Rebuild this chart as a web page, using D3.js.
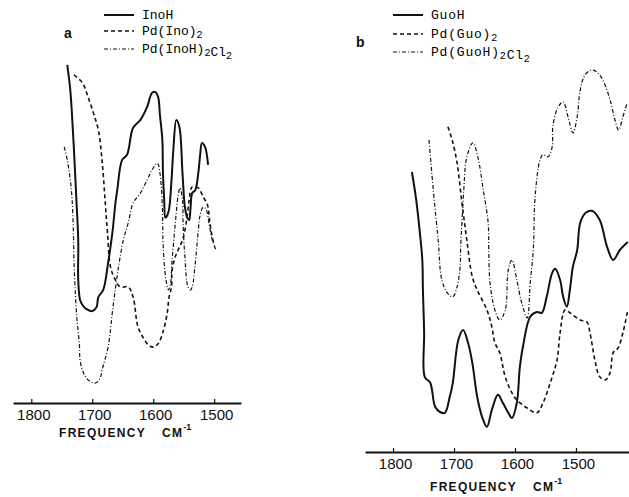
<!DOCTYPE html>
<html>
<head>
<meta charset="utf-8">
<script src="https://cdn.jsdelivr.net/npm/d3@7"></script>
<style>
  body { margin: 0; background: #fff; }
  .tick text { font-family: "Liberation Sans", sans-serif; font-size: 15px; fill: #111; }
  .legend text { font-family: "Liberation Mono", monospace; font-size: 13px; fill: #000; }
</style>
</head>
<body>
<div id="chart"></div>
<script>
// frequency ticks (cm-1), same for both panels
const freqTicks = [1800, 1700, 1600, 1500];

// panel a : [frequency, relative transmittance]
const inoH = [[1741,93.1],[1736,86.1],[1733,78.6],[1730,69.4],[1726,55.6],[1723,44.4],[1723,33.3],[1720,27.8],[1716,26.4],[1710,25.3],[1700,24.7],[1693,25.8],[1690,28.6],[1682,30.6],[1674,38.1],[1667,46.4],[1662,54.7],[1659,58.3],[1651,66.7],[1643,68.1],[1633,75.6],[1621,77.8],[1610,81.4],[1602,85.3],[1597,85.6],[1592,84.2],[1589,79.2],[1585,72.2],[1584,63.1],[1582,55.6],[1580,50.6],[1575,52.2],[1570,61.1],[1567,69.4],[1562,77.8],[1557,75.8],[1552,63.1],[1548,53.6],[1544,50.6],[1541,50.0],[1539,52.8],[1536,57.5],[1531,58.3],[1526,63.1],[1523,68.1],[1520,71.4],[1515,70.3],[1510,65.3]];
const pdIno2 = [[1730,90.3],[1716,88.1],[1707,84.2],[1698,79.7],[1690,75.0],[1684,66.7],[1679,55.6],[1675,46.4],[1670,36.9],[1662,33.3],[1654,31.4],[1641,31.4],[1633,28.6],[1625,20.3],[1616,17.2],[1608,15.3],[1600,14.7],[1592,15.6],[1584,18.9],[1577,24.2],[1574,28.6],[1570,31.4],[1569,36.1],[1564,39.7],[1559,41.7],[1552,44.4],[1548,47.2],[1544,51.4],[1541,55.6],[1536,59.2],[1526,58.9],[1518,56.4],[1511,54.2],[1507,49.2],[1502,44.4],[1499,43.1]];
const pdInoHCl = [[1746,70.3],[1741,66.7],[1736,61.1],[1733,55.6],[1731,47.2],[1730,38.9],[1728,30.6],[1725,22.2],[1721,15.3],[1720,11.1],[1715,7.8],[1707,5.6],[1695,4.7],[1687,6.1],[1684,8.3],[1674,14.7],[1666,25.8],[1657,36.9],[1649,44.4],[1641,49.2],[1633,54.7],[1621,57.5],[1610,61.1],[1602,63.9],[1593,65.8],[1589,63.1],[1585,53.6],[1584,44.4],[1582,38.1],[1579,33.3],[1575,30.6],[1572,31.9],[1569,38.9],[1564,48.6],[1559,56.9],[1556,58.9],[1552,55.6],[1551,49.2],[1548,39.7],[1543,31.4],[1539,30.6],[1536,31.4],[1531,38.1],[1526,47.2],[1523,51.4],[1518,53.6],[1513,52.8],[1508,48.6],[1503,44.4],[1497,41.7]];

// panel b
const guoH = [[1769,69.5],[1762,62.5],[1756,54.3],[1752,47.5],[1751,40],[1749,29.3],[1748,18.3],[1739,16.8],[1731,10.8],[1723,9.5],[1715,9.3],[1707,13.3],[1702,16.8],[1693,27.5],[1685,30],[1677,26.8],[1670,21.8],[1662,13.3],[1654,8.3],[1646,5.8],[1638,10],[1628,13.8],[1620,11.8],[1611,9.3],[1605,8],[1597,11.8],[1592,20.8],[1587,25.8],[1575,33.3],[1564,34.5],[1556,34.3],[1548,38.3],[1539,44.3],[1534,45.3],[1526,42.5],[1521,38.3],[1515,35.8],[1510,40],[1505,45.8],[1498,50],[1493,56.8],[1484,59.3],[1474,59.8],[1461,57.5],[1449,50.8],[1439,47.5],[1428,50],[1415,52]];
const pdGuo2 = [[1710,80.8],[1703,77.5],[1695,71.8],[1687,61.8],[1679,52.5],[1670,43.3],[1662,40],[1646,35],[1638,30.8],[1633,26.8],[1625,24.3],[1616,18.3],[1605,14.3],[1597,12.5],[1580,10.5],[1564,9.3],[1554,11.8],[1539,18.3],[1531,22.5],[1526,29.3],[1518,35],[1510,34.3],[1493,32.5],[1482,32],[1477,29.3],[1469,22.5],[1461,18.3],[1452,17.5],[1444,19.3],[1439,24.3],[1431,25.5],[1423,29.3],[1415,35]];
const pdGuoHCl = [[1741,77.5],[1734,65],[1726,52.5],[1720,42.5],[1711,39.3],[1702,38.3],[1695,40.8],[1690,45.8],[1689,51.3],[1687,56.8],[1684,65],[1679,73.3],[1669,76.8],[1661,73.3],[1652,65],[1644,56.8],[1643,50],[1641,41.8],[1633,35],[1625,32.5],[1616,35],[1611,45],[1605,47.5],[1597,42.5],[1589,36.8],[1580,33],[1575,41.8],[1570,50],[1567,63.3],[1559,72.5],[1554,73.8],[1546,73.3],[1539,75.8],[1538,80.8],[1530,85.5],[1521,87],[1513,83.3],[1505,79.3],[1498,83.3],[1493,90],[1485,93.8],[1474,95],[1466,94.5],[1456,92.5],[1444,87.5],[1436,82.5],[1430,80],[1423,83.3],[1416,86.8]];

const styles = {
  solid: { width: 2, dash: null },
  dashed: { width: 1.6, dash: '4,3' },
  dashdot: { width: 1.2, dash: '4,2,1,2' }
};

const svg = d3.select('#chart')
  .append('svg')
  .attr('width', 629)
  .attr('height', 497)
  .style('font-family', '"Liberation Sans", sans-serif');

function drawPanel(p) {
  const x = d3.scaleLinear().domain(p.xDomain).range(p.xRange);
  const y = d3.scaleLinear().domain([0, 100]).range(p.yRange);

  const line = d3.line()
    .x(d => x(d[0]))
    .y(d => y(d[1]))
    .curve(d3.curveCatmullRom.alpha(0.5));

  p.series.forEach(s => {
    svg.append('path')
      .datum(s.data)
      .attr('d', line)
      .attr('fill', 'none')
      .attr('stroke', '#111')
      .attr('stroke-width', styles[s.style].width)
      .attr('stroke-dasharray', styles[s.style].dash)
      .attr('stroke-linejoin', 'round');
  });

  const axis = svg.append('g')
    .attr('transform', `translate(0,${p.axisY})`)
    .call(d3.axisBottom(x).tickValues(freqTicks).tickSizeInner(-4).tickSizeOuter(0).tickPadding(6).tickFormat(d3.format('d')));
  axis.select('.domain').attr('stroke-width', 2.2).attr('stroke', '#111');
  axis.selectAll('.tick line').attr('stroke', '#111').attr('stroke-width', 1.2);
  axis.selectAll('.tick text').attr('dx', 2);

  // axis title with cm-1 superscript
  const t = svg.append('text')
    .attr('x', p.titleX)
    .attr('y', p.titleY)
    .attr('font-size', 12)
    .attr('font-weight', 'bold')
    .attr('letter-spacing', 1.3)
    .attr('fill', '#111');
  t.append('tspan').text('FREQUENCY');
  t.append('tspan').attr('dx', 16).text('CM');
  t.append('tspan').attr('dy', -7).attr('font-size', 9).attr('letter-spacing', 0).text('-1');

  svg.append('text')
    .attr('x', p.tagX)
    .attr('y', p.tagY)
    .attr('font-size', 14)
    .attr('font-weight', 'bold')
    .attr('fill', '#111')
    .text(p.tag);

  // legend
  const lg = svg.append('g').attr('class', 'legend');
  p.series.forEach((s, i) => {
    const ly = p.legendY[i];
    lg.append('line')
      .attr('x1', p.legendX).attr('x2', p.legendX + 30)
      .attr('y1', ly).attr('y2', ly)
      .attr('stroke', '#111')
      .attr('stroke-width', styles[s.style].width)
      .attr('stroke-dasharray', styles[s.style].dash);
    const txt = lg.append('text')
      .attr('x', p.legendX + 38)
      .attr('y', ly + 4)
      .attr('letter-spacing', p.legendSpacing);
    s.label.forEach(part => {
      if (part.sub) {
        txt.append('tspan').attr('dy', 3).attr('font-size', 10).text(part.sub);
        txt.append('tspan').attr('dy', -3).text('');
      } else {
        txt.append('tspan').text(part.t);
      }
    });
  });
}

drawPanel({
  xDomain: [1830, 1456], xRange: [13, 241], yRange: [400, 40], axisY: 403,
  titleX: 59, titleY: 437, tag: 'a', tagX: 64, tagY: 38,
  legendX: 104, legendY: [15, 31, 49], legendSpacing: 0,
  series: [
    { data: inoH, style: 'solid', label: [{ t: 'InoH' }] },
    { data: pdIno2, style: 'dashed', label: [{ t: 'Pd(Ino)' }, { sub: '2' }] },
    { data: pdInoHCl, style: 'dashdot', label: [{ t: 'Pd(InoH)' }, { sub: '2' }, { t: 'Cl' }, { sub: '2' }] }
  ]
});

drawPanel({
  xDomain: [1846, 1413], xRange: [365, 629], yRange: [450, 50], axisY: 452,
  titleX: 430, titleY: 491, tag: 'b', tagX: 356, tagY: 47,
  legendX: 393, legendY: [15, 34, 52], legendSpacing: 0.8,
  series: [
    { data: guoH, style: 'solid', label: [{ t: 'GuoH' }] },
    { data: pdGuo2, style: 'dashed', label: [{ t: 'Pd(Guo)' }, { sub: '2' }] },
    { data: pdGuoHCl, style: 'dashdot', label: [{ t: 'Pd(GuoH)' }, { sub: '2' }, { t: 'Cl' }, { sub: '2' }] }
  ]
});
</script>
</body>
</html>
